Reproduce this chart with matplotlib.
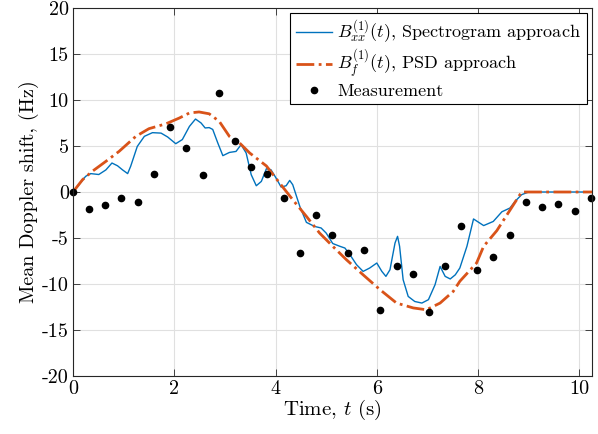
import numpy as np
import matplotlib
matplotlib.use('Agg')
from matplotlib import pyplot as plt

plt.rcParams['font.family'] = 'serif'
plt.rcParams['font.serif'] = ['cmr10']
plt.rcParams['mathtext.fontset'] = 'cm'
plt.rcParams['axes.unicode_minus'] = False

# spectrogram approach curve
t_spec = [0, 0.12, 0.25, 0.35, 0.51, 0.65, 0.77, 0.88, 0.98, 1.08, 1.14, 1.27, 1.41, 1.57,
          1.74, 1.87, 2.03, 2.16, 2.3, 2.42, 2.53, 2.61, 2.69, 2.76, 2.86, 2.96, 3.09, 3.22,
          3.32, 3.42, 3.52, 3.62, 3.72, 3.82, 3.91, 4.01, 4.11, 4.21, 4.28, 4.34, 4.48, 4.61,
          4.77, 4.9, 5.0, 5.13, 5.27, 5.37, 5.47, 5.6, 5.73, 5.86, 6.0, 6.1, 6.18, 6.26, 6.36,
          6.41, 6.45, 6.52, 6.62, 6.75, 6.89, 7.02, 7.15, 7.25, 7.35, 7.45, 7.55, 7.64, 7.78,
          7.91, 8.11, 8.3, 8.47, 8.63, 8.73, 8.86, 9.0, 10.25]
b_spec = [0, 0.8, 1.7, 2.0, 1.9, 2.4, 3.15, 2.85, 2.4, 2.0, 2.8, 4.95, 6.05, 6.45,
          6.4, 5.98, 5.25, 5.7, 7.13, 7.93, 7.5, 6.96, 7.0, 6.8, 5.33, 3.95, 4.3, 4.41,
          5.14, 4.24, 1.88, 0.68, 1.15, 2.53, 2.42, 1.52, 0.54, 0.68, 1.26, 0.79, -1.57, -3.3,
          -3.74, -3.91, -4.46, -5.6, -5.9, -6.09, -6.82, -7.9, -8.63, -8.26, -7.72, -8.63, -9.17, -8.45, -5.54,
          -4.82, -5.9, -9.53, -11.35, -11.9, -12.07, -11.7, -10.08, -8.09, -9.17, -9.45, -9.0, -8.26, -5.9,
          -2.93, -3.65, -3.2, -2.15, -1.74, -1.02, -0.29, 0, 0]

# PSD approach curve
t_psd = [0, 0.19, 0.38, 0.65, 0.91, 1.24, 1.5, 1.84, 2.1, 2.3, 2.49, 2.69, 2.89, 3.09,
         3.29, 3.49, 3.82, 4.08, 4.34, 4.61, 4.87, 5.13, 5.4, 5.73, 6.06, 6.39, 6.72, 6.98,
         7.25, 7.51, 7.64, 7.97, 8.11, 8.37, 8.86, 10.25]
b_psd = [0, 1.34, 2.24, 3.33, 4.41, 6.04, 6.88, 7.42, 8.04, 8.59, 8.7, 8.5, 7.67, 6.04,
         5.33, 4.24, 2.83, 0.98, -0.84, -2.65, -4.46, -5.9, -7.36, -9.0, -10.6, -12.07, -12.6, -12.8,
         -12.07, -10.8, -9.7, -7.72, -5.9, -4.2, 0, 0]

# measurements
t_meas = [0, 0.317, 0.64, 0.956, 1.281, 1.598, 1.921, 2.238, 2.56, 2.877, 3.194, 3.511,
          3.836, 4.158, 4.475, 4.792, 5.109, 5.426, 5.756, 6.073, 6.39, 6.707, 7.03,
          7.347, 7.67, 7.986, 8.303, 8.628, 8.95, 9.267, 9.584, 9.907, 10.232]
b_meas = [0, -1.85, -1.41, -0.62, -1.05, 1.99, 7.02, 4.74, 1.85, 10.79, 5.54, 2.67,
          1.91, -0.62, -6.68, -2.47, -4.72, -6.68, -6.27, -12.83, -8.09, -8.96, -13.04,
          -8.09, -3.7, -8.48, -7.03, -4.72, -1.13, -1.67, -1.3, -2.11, -0.65]

xticks = [0, 2, 4, 6, 8, 10]
yticks = [-20, -15, -10, -5, 0, 5, 10, 15, 20]

fig = plt.figure(figsize=(5.98, 4.34), dpi=100)
ax = fig.add_axes([0.122, 0.1336, 0.868, 0.848])

ax.plot(t_spec, b_spec, color='#0072BD', lw=1.0,
        label=r'$B_{xx}^{(1)}(t)$, Spectrogram approach')
ax.plot(t_psd, b_psd, color='#D95319', lw=2.0, ls='-.',
        label=r'$B_{f}^{(1)}(t)$, PSD approach')
ax.plot(t_meas, b_meas, 'o', color='black', ms=4.5, ls='none', label='Measurement',
        clip_on=False)

ax.set_xlim(0, 10.25)
ax.set_ylim(-20, 20)
ax.set_xticks(xticks)
ax.set_xticklabels([str(v) for v in xticks])
ax.set_yticks(yticks)
ax.set_yticklabels([str(v) for v in yticks])
ax.tick_params(direction='in', labelsize=14.5, top=True, right=True, length=5,
               color='#262626', width=0.6, pad=3)
ax.grid(True, color='#e0e0e0', lw=0.8)
ax.set_axisbelow(True)
for s in ax.spines.values():
    s.set_color('#262626')
    s.set_linewidth(0.8)

ax.set_xlabel(r'Time, $t$ (s)', fontsize=15, labelpad=0)
ax.set_ylabel('Mean Doppler shift, (Hz)', fontsize=14.5, labelpad=2)

leg = ax.legend(loc='upper right', fontsize=13, fancybox=False, framealpha=1,
                edgecolor='black', handlelength=2.0, borderaxespad=0.3,
                labelspacing=0.15, borderpad=0.3, handletextpad=0.3)
leg.get_frame().set_linewidth(0.8)

fig.savefig('out.png', dpi=100)
